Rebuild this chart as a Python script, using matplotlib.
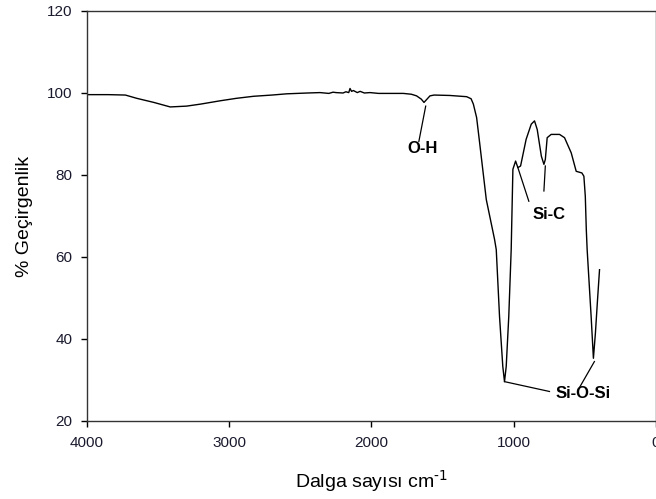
import numpy as np
import matplotlib.pyplot as plt

plt.rcParams['font.family'] = ['Liberation Sans', 'DejaVu Sans']

# IR spektrumu (okunan degerler)
dalga = [4000, 3850, 3730, 3650, 3530, 3415, 3300, 3200, 3064, 2950,
         2829, 2700, 2596, 2450, 2362, 2300, 2270, 2250, 2200, 2180,
         2160, 2151, 2140, 2127, 2100, 2080, 2050, 2011, 1950, 1893,
         1776, 1720, 1683, 1650, 1631, 1610, 1589, 1560, 1450, 1331,
         1300, 1284, 1261, 1240, 1193, 1135, 1123, 1100, 1077, 1065,
         1053, 1035, 1018, 1013, 1006, 987, 971, 952, 913, 877,
         854, 835, 806, 788, 778, 765, 737, 678, 643, 596,
         561, 521, 507, 497, 490, 484, 456, 440, 426, 411, 397]
gecirgenlik = [99.6, 99.6, 99.5, 98.7, 97.7, 96.6, 96.8, 97.3, 98.1, 98.7,
               99.2, 99.5, 99.8, 100.0, 100.1, 99.9, 100.2, 100.1, 100.0, 100.3,
               100.1, 101.1, 100.4, 100.6, 100.1, 100.4, 100.0, 100.1, 99.9, 99.9,
               99.9, 99.7, 99.3, 98.5, 97.7, 98.5, 99.3, 99.5, 99.4, 99.1,
               98.6, 97.3, 94.0, 87.9, 74.0, 64.3, 61.8, 45.5, 33.3, 29.6,
               33.3, 45.5, 61.8, 70.0, 81.4, 83.4, 81.8, 82.2, 88.7, 92.4,
               93.2, 91.1, 84.6, 82.6, 83.8, 89.1, 89.9, 89.9, 89.1, 85.4,
               80.9, 80.5, 79.7, 74.8, 66.7, 61.8, 45.5, 35.3, 41.4, 49.6, 56.9]

# etiketler: metin, metin konumu, cizgiler
etiketler = [
    ('O-H', (1640, 86.4), [((1619, 96.8), (1667, 88.2))]),
    ('Si-C', (749, 70.4), [((971, 81.8), (894, 73.6)), ((778, 82.2), (788, 76.1))]),
    ('Si-O-Si', (515, 26.7), [((1065, 29.6), (749, 27.2)), ((433, 34.5), (534, 28.4))]),
]


def main():
    fig = plt.figure(figsize=(6.56, 4.99), dpi=100)
    ax = fig.add_axes([87 / 656, 1 - 421 / 499, 1 - 87 / 656, (421 - 11) / 499])

    ax.plot(dalga, gecirgenlik, color='black', lw=1.0)

    for metin, pos, cizgiler in etiketler:
        for (x0, y0), (x1, y1) in cizgiler:
            ax.plot([x0, x1], [y0, y1], color='black', lw=0.9)
        ax.text(pos[0], pos[1], metin, ha='center', va='center',
                fontsize=12, fontweight='bold', color='black')

    ax.set_xlim(4000, 0)
    ax.set_ylim(20, 120)
    ax.set_xticks([4000, 3000, 2000, 1000, 0])
    ax.set_yticks([20, 40, 60, 80, 100, 120])
    ax.tick_params(direction='out', length=4.5, width=1, pad=6,
                   labelsize=11, labelcolor='#1a1a2e', top=False, right=False)
    for s in ax.spines.values():
        s.set_linewidth(1.0)
        s.set_color('#333333')

    ax.set_xlabel('Dalga sayısı cm$^{\\text{-1}}$', fontsize=14, labelpad=13)
    ax.set_ylabel('% Geçirgenlik', fontsize=14, labelpad=10)

    fig.savefig('out.png', dpi=100)


if __name__ == '__main__':
    main()
